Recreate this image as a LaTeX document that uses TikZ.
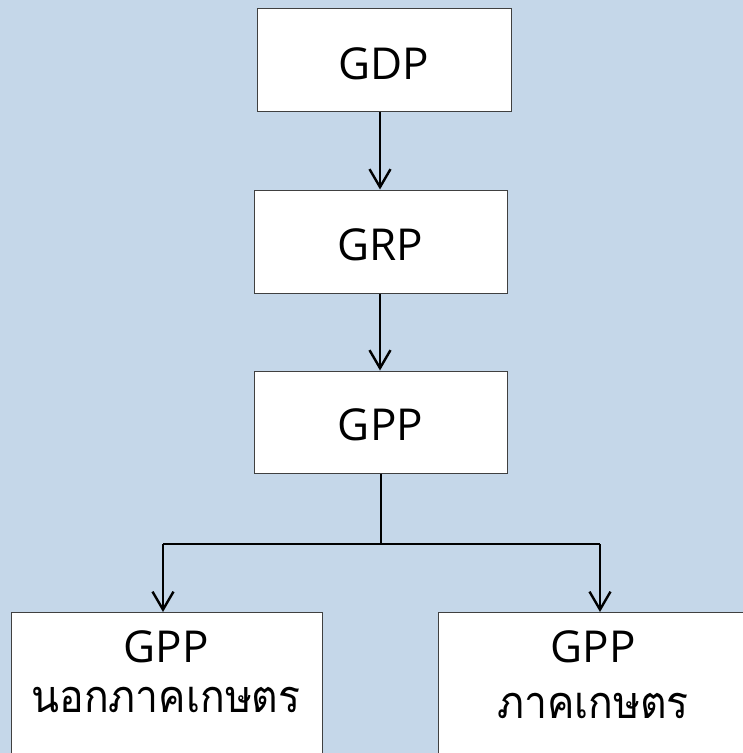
\documentclass[tikz,border=0pt]{standalone}
\usepackage{fontspec}
\setmainfont{Open Sans}
\newfontfamily\thaifont[Script=Thai,FakeStretch=0.91]{Loma}
\usetikzlibrary{arrows.meta}
\definecolor{bgblue}{HTML}{C5D7E9}
\definecolor{boxline}{HTML}{404040}
\tikzset{
  box/.style={draw=boxline, line width=1pt, fill=white, inner sep=0pt},
  conn/.style={line width=2.4pt, black},
  arr/.style={conn, -{Straight Barb[length=18pt,width=21pt,line width=2.4pt]}},
  lbl/.style={font=\fontsize{44}{50}\selectfont, inner sep=0pt},
  thailbl/.style={font=\thaifont\fontsize{45}{50}\selectfont, inner sep=0pt}
}
\begin{document}
\begin{tikzpicture}[x=1pt,y=-1pt]
\useasboundingbox (0,0) rectangle (743,753);
\fill[bgblue] (0,0) rectangle (743,753);
\clip (0,0) rectangle (743,753);
\node[box, minimum width=254pt, minimum height=103pt] (gdp) at (384,59.5) {};
\node[lbl] (gdpt) at (384,64) {GDP};
\node[box, minimum width=253pt, minimum height=103pt] (grp) at (380.5,241.5) {};
\node[lbl] (grpt) at (380.5,245) {GRP};
\node[box, minimum width=253pt, minimum height=102pt] (gpp) at (380.5,422) {};
\node[lbl] (gppt) at (380.5,425) {GPP};
\node[box, minimum width=311pt, minimum height=170pt, anchor=north west] (left) at (11,612) {};
\node[lbl] (leftt1) at (166,647) {GPP};
\node[thailbl] (leftt2) at (166,700) {นอกภาคเกษตร};
\node[box, minimum width=320pt, minimum height=170pt, anchor=north west] (right) at (438,612) {};
\node[lbl] (rightt1) at (593,647) {GPP};
\node[thailbl] (rightt2) at (593,706) {ภาคเกษตร};
\coordinate (split) at (381,544);
\coordinate (lturn) at (163,544);
\coordinate (rturn) at (600,544);
\draw[arr] (gdp.south -| 380,0) -- (grp.north -| 380,0);
\draw[arr] (grp.south -| 380,0) -- (gpp.north -| 380,0);
\draw[conn] (gpp.south -| split) -- (split);
\draw[conn] (lturn) -- (rturn);
\draw[arr] (lturn) -- (left.north -| lturn);
\draw[arr] (rturn) -- (right.north -| rturn);
\end{tikzpicture}
\end{document}
